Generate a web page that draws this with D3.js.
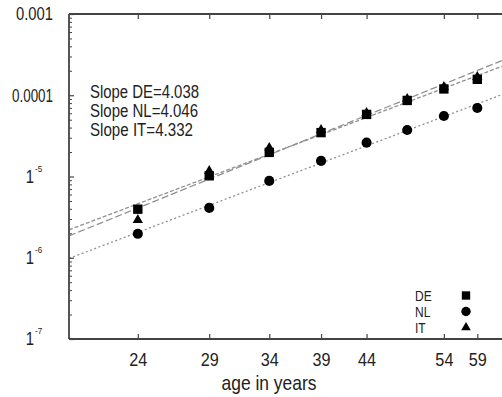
<!DOCTYPE html>
<html>
<head>
<meta charset="utf-8">
<script src="https://cdn.jsdelivr.net/npm/d3@7"></script>
<style>
  html, body { margin: 0; padding: 0; background: #fff; }
  svg text { font-family: "Liberation Sans", Arial, sans-serif; fill: #222; }
</style>
</head>
<body>
<div id="chart"></div>
<script>
// ages (x) and incidence values per country
const ages = [24, 29, 34, 39, 44, 49, 54, 59];
const valuesDE = [3.96e-6, 1.02e-5, 1.98e-5, 3.47e-5, 5.81e-5, 8.63e-5, 1.196e-4, 1.57e-4];
const valuesNL = [1.97e-6, 4.11e-6, 8.83e-6, 1.556e-5, 2.61e-5, 3.74e-5, 5.56e-5, 6.98e-5];
const valuesIT = [2.92e-6, 1.17e-5, 2.25e-5, 3.74e-5, 6.05e-5, 9.0e-5, 1.265e-4, 1.68e-4];
const countries = ["DE", "NL", "IT"];
const slopes = [4.038, 4.046, 4.332];
const xTicks = [24, 29, 34, 39, 44, 54, 59];
const yTicks = [1e-7, 1e-6, 1e-5, 1e-4, 1e-3];
const yTickText = [["1", "-7"], ["1", "-6"], ["1", "-5"], ["0.0001", ""], ["0.001", ""]];

const width = 502, height = 397;
const margin = { left: 69, top: 14, bottom: 58 };
const plotW = 439;

// squeeze text horizontally so it looks like a narrow face
function narrow(sel, f) {
    sel.each(function () {
        const w = this.getComputedTextLength();
        d3.select(this).attr("textLength", w * f).attr("lengthAdjust", "spacingAndGlyphs");
    });
}
function fitTo(sel, len) {
    sel.attr("textLength", len).attr("lengthAdjust", "spacingAndGlyphs");
}

const svg = d3.select("#chart").append("svg")
    .attr("width", width)
    .attr("height", height);

const x = d3.scaleLog().domain([20, 64]).range([margin.left, margin.left + plotW]);
const y = d3.scaleLog().domain([1e-7, 1e-3]).range([height - margin.bottom, margin.top]);

const series = [valuesDE, valuesNL, valuesIT];
const symbols = [d3.symbolSquare, d3.symbolCircle, d3.symbolTriangle];
const symSizes = [88, 80, 46];
const dashes = ["4,2", "2,2.5", "7,3"];

// clip for the fitted lines
svg.append("clipPath").attr("id", "clip")
  .append("rect")
    .attr("x", x.range()[0]).attr("y", y.range()[1])
    .attr("width", plotW).attr("height", y.range()[0] - y.range()[1]);

// fitted power-law lines with the given slopes
const lineGen = d3.line().x(d => x(d[0])).y(d => y(d[1]));
series.forEach((vals, i) => {
    const b = slopes[i];
    const logA = d3.mean(vals, (v, j) => Math.log10(v) - b * Math.log10(ages[j]));
    const pts = d3.range(0, 41).map(k => {
        const xv = 20 * Math.pow(64 / 20, k / 40);
        return [xv, Math.pow(10, logA + b * Math.log10(xv))];
    });
    svg.append("path")
        .attr("clip-path", "url(#clip)")
        .attr("d", lineGen(pts))
        .attr("fill", "none")
        .attr("stroke", "#909090")
        .attr("stroke-width", 1.3)
        .attr("stroke-dasharray", dashes[i]);
});

// frame
const axisColor = "#444";
svg.append("line")
    .attr("x1", x.range()[0]).attr("x2", x.range()[0])
    .attr("y1", y.range()[1]).attr("y2", y.range()[0])
    .attr("stroke", axisColor).attr("stroke-width", 1.8);
svg.append("line")
    .attr("x1", x.range()[0]).attr("x2", width)
    .attr("y1", y.range()[0]).attr("y2", y.range()[0])
    .attr("stroke", axisColor).attr("stroke-width", 1.8);
svg.append("line")
    .attr("x1", x.range()[0]).attr("x2", width)
    .attr("y1", y.range()[1]).attr("y2", y.range()[1])
    .attr("stroke", axisColor).attr("stroke-width", 1.8);

// x ticks (bottom and top, inward)
const bottomAxis = d3.axisBottom(x).tickValues(xTicks).tickSizeInner(-5).tickSizeOuter(0).tickPadding(14).tickFormat(d3.format("d"));
const gx = svg.append("g").attr("transform", `translate(0,${y.range()[0]})`).call(bottomAxis);
gx.select(".domain").remove();
gx.selectAll(".tick line").attr("stroke", axisColor).attr("stroke-width", 1.2);
gx.selectAll(".tick text").attr("font-size", 18).attr("fill", "#222")
    .attr("font-family", "Liberation Sans, Arial, sans-serif");
narrow(gx.selectAll(".tick text"), 0.9);

const topAxis = d3.axisTop(x).tickValues(xTicks).tickSizeInner(-5).tickSizeOuter(0).tickFormat("");
const gt = svg.append("g").attr("transform", `translate(0,${y.range()[1]})`).call(topAxis);
gt.select(".domain").remove();
gt.selectAll(".tick line").attr("stroke", axisColor).attr("stroke-width", 1.2);

// y ticks: majors and minors, inward
const minor = [];
yTicks.slice(0, -1).forEach(t => { for (let m = 2; m <= 9; m++) minor.push(t * m); });
const gyMinor = svg.append("g").attr("transform", `translate(${x.range()[0]},0)`)
    .call(d3.axisLeft(y).tickValues(minor).tickSizeInner(-3).tickSizeOuter(0).tickFormat(""));
gyMinor.select(".domain").remove();
gyMinor.selectAll(".tick line").attr("stroke", axisColor).attr("stroke-width", 1);
const gyMajor = svg.append("g").attr("transform", `translate(${x.range()[0]},0)`)
    .call(d3.axisLeft(y).tickValues(yTicks).tickSizeInner(-5).tickSizeOuter(0).tickFormat(""));
gyMajor.select(".domain").remove();
gyMajor.selectAll(".tick line").attr("stroke", axisColor).attr("stroke-width", 1.2);

// y labels
yTicks.forEach((t, i) => {
    const [base, sup] = yTickText[i];
    if (sup) {
        const b = svg.append("text")
            .attr("x", 34).attr("y", y(t)).attr("dy", "0.36em")
            .attr("text-anchor", "end")
            .attr("font-size", 17.5)
            .text(base);
        narrow(b, 0.85);
        const s = svg.append("text")
            .attr("x", 35).attr("y", y(t) - 5)
            .attr("font-size", 9.5)
            .text(sup);
        narrow(s, 0.85);
    } else {
        const b = svg.append("text")
            .attr("x", 53).attr("y", y(t)).attr("dy", "0.36em")
            .attr("text-anchor", "end")
            .attr("font-size", 17.5)
            .text(base);
        fitTo(b, base.length === 5 ? 37 : 41);
    }
});

// x axis title
const title = svg.append("text")
    .attr("x", 269).attr("y", 389.5)
    .attr("text-anchor", "middle")
    .attr("font-size", 21)
    .text("age in years");
fitTo(title, 95);

// data markers
series.forEach((vals, i) => {
    svg.append("g").selectAll("path")
        .data(vals)
        .join("path")
        .attr("transform", (v, j) => `translate(${x(ages[j])},${y(v)})`)
        .attr("d", d3.symbol().type(symbols[i]).size(symSizes[i]))
        .attr("fill", "#000");
});

// slope annotations
const slopeLens = [109, 108, 103];
countries.forEach((c, i) => {
    const t = svg.append("text")
        .attr("x", 90).attr("y", 98 + i * 19.2)
        .attr("font-size", 18)
        .text(`Slope ${c}=${slopes[i].toFixed(3)}`);
    fitTo(t, slopeLens[i]);
});

// legend
countries.forEach((c, i) => {
    const ly = 296 + i * 16;
    const t = svg.append("text")
        .attr("x", 415).attr("y", ly).attr("dy", "0.36em")
        .attr("font-size", 15)
        .text(c);
    narrow(t, 0.8);
    svg.append("path")
        .attr("transform", `translate(466,${ly - 0.5})`)
        .attr("d", d3.symbol().type(symbols[i]).size(i === 2 ? 40 : 70))
        .attr("fill", "#000");
});
</script>
</body>
</html>
